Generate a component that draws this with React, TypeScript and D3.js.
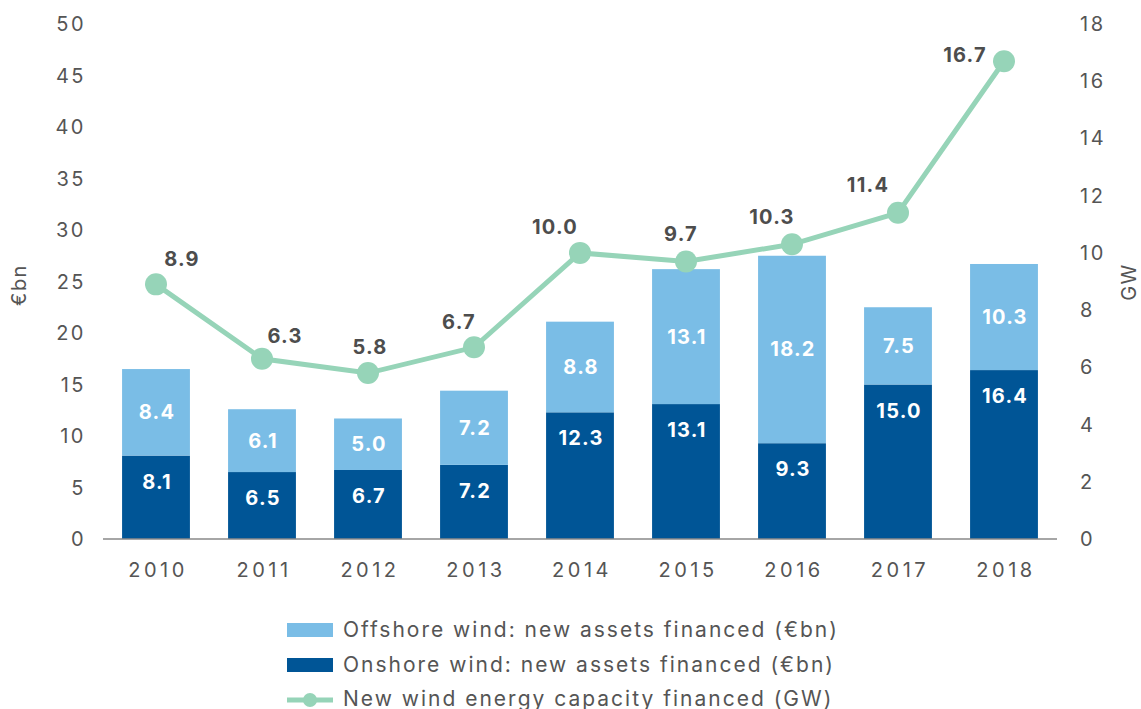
import React from "react";
import * as d3 from "d3";

const years = ["2010", "2011", "2012", "2013", "2014", "2015", "2016", "2017", "2018"];
const onshore = [8.1, 6.5, 6.7, 7.2, 12.3, 13.1, 9.3, 15.0, 16.4];
const offshore = [8.4, 6.1, 5.0, 7.2, 8.8, 13.1, 18.2, 7.5, 10.3];
const capacity = [8.9, 6.3, 5.8, 6.7, 10.0, 9.7, 10.3, 11.4, 16.7];
const leftTicks = [0, 5, 10, 15, 20, 25, 30, 35, 40, 45, 50];
const rightTicks = [0, 2, 4, 6, 8, 10, 12, 14, 16, 18];
const legendLabels = [
  "Offshore wind: new assets financed (€bn)",
  "Onshore wind: new assets financed (€bn)",
  "New wind energy capacity financed (GW)",
];
// label placement (layout, relative to each point)
const lineLabelDx = [26, 23, 2, -15, -25, -5, -20, -30, -39];
const lineLabelDy = [-25, -23, -26, -25, -26, -27, -27, -28, -6];

const LIGHT = "#7abde6";
const DARK = "#005596";
const GREEN = "#96d4b8";
const GREY = "#555555";
const FONT = "Inter, 'Noto Sans', sans-serif";

export default function App() {
  const W = 1141, H = 709;
  const x = d3.scaleBand<string>().domain(years).range([103, 1057]).paddingInner(0.36).paddingOuter(0.18);
  const yL = d3.scaleLinear().domain([0, 50]).range([539, 24]);
  const yR = d3.scaleLinear().domain([0, 18]).range([539, 24]);
  const line = d3.line<number>().x((_, i) => x(years[i])! + x.bandwidth() / 2).y((d) => yR(d));

  return (
    <svg width={W} height={H} style={{ position: "absolute", left: 0, top: 0, fontFamily: FONT }}>
      {leftTicks.map((t) => (
        <text key={"l" + t} x={86} y={yL(t)} dy="0.35em" textAnchor="end" fontSize={20} letterSpacing={2.5} fill={GREY}>{t}</text>
      ))}
      {rightTicks.map((t) => (
        <text key={"r" + t} x={1080} y={yR(t)} dy="0.35em" textAnchor="start" fontSize={20} letterSpacing={2.5} fill={GREY}>{t}</text>
      ))}
      <text transform={`translate(26,285) rotate(-90)`} textAnchor="middle" fontSize={20} letterSpacing={1.5} fill={GREY}>€bn</text>
      <text transform={`translate(1136,282) rotate(-90)`} textAnchor="middle" fontSize={20} letterSpacing={1.5} fill={GREY}>GW</text>

      {years.map((yr, i) => {
        const bx = x(yr)!;
        const bw = x.bandwidth();
        const cx = bx + bw / 2;
        const on0 = yL(0), on1 = yL(onshore[i]);
        const off1 = yL(onshore[i] + offshore[i]);
        return (
          <g key={yr}>
            <rect x={bx} y={on1} width={bw} height={on0 - on1} fill={DARK} />
            <rect x={bx} y={off1} width={bw} height={on1 - off1} fill={LIGHT} />
            <text x={cx + 1} y={on1 + 26} dy="0.35em" textAnchor="middle" fontSize={20} fontWeight={700} letterSpacing={1.2} fill="#fff">{onshore[i].toFixed(1)}</text>
            <text x={cx + 1} y={(on1 + off1) / 2} dy="0.35em" textAnchor="middle" fontSize={20} fontWeight={700} letterSpacing={1.2} fill="#fff">{offshore[i].toFixed(1)}</text>
            <text x={cx + 2} y={570} dy="0.35em" textAnchor="middle" fontSize={20} letterSpacing={3.5} fill={GREY}>{yr}</text>
          </g>
        );
      })}
      <line x1={103} x2={1057} y1={539} y2={539} stroke="#888" strokeWidth={1.5} />

      <path d={line(capacity)!} fill="none" stroke={GREEN} strokeWidth={5} />
      {capacity.map((c, i) => {
        const cx = x(years[i])! + x.bandwidth() / 2;
        return (
          <g key={"c" + i}>
            <circle cx={cx} cy={yR(c)} r={11} fill={GREEN} />
            <text x={cx + lineLabelDx[i]} y={yR(c) + lineLabelDy[i]} dy="0.35em" textAnchor="middle" fontSize={20} fontWeight={700} letterSpacing={1.2} fill="#4d4d4d">{c.toFixed(1)}</text>
          </g>
        );
      })}

      <rect x={287} y={623} width={46} height={14} fill={LIGHT} />
      <text x={343} y={630} dy="0.35em" fontSize={21} letterSpacing={2} fill={GREY}>{legendLabels[0]}</text>
      <rect x={287} y={658} width={46} height={14} fill={DARK} />
      <text x={343} y={665} dy="0.35em" fontSize={21} letterSpacing={2} fill={GREY}>{legendLabels[1]}</text>
      <line x1={287} x2={333} y1={700} y2={700} stroke={GREEN} strokeWidth={5} />
      <circle cx={310} cy={700} r={7} fill={GREEN} />
      <text x={343} y={699} dy="0.35em" fontSize={21} letterSpacing={2} fill={GREY}>{legendLabels[2]}</text>
    </svg>
  );
}
